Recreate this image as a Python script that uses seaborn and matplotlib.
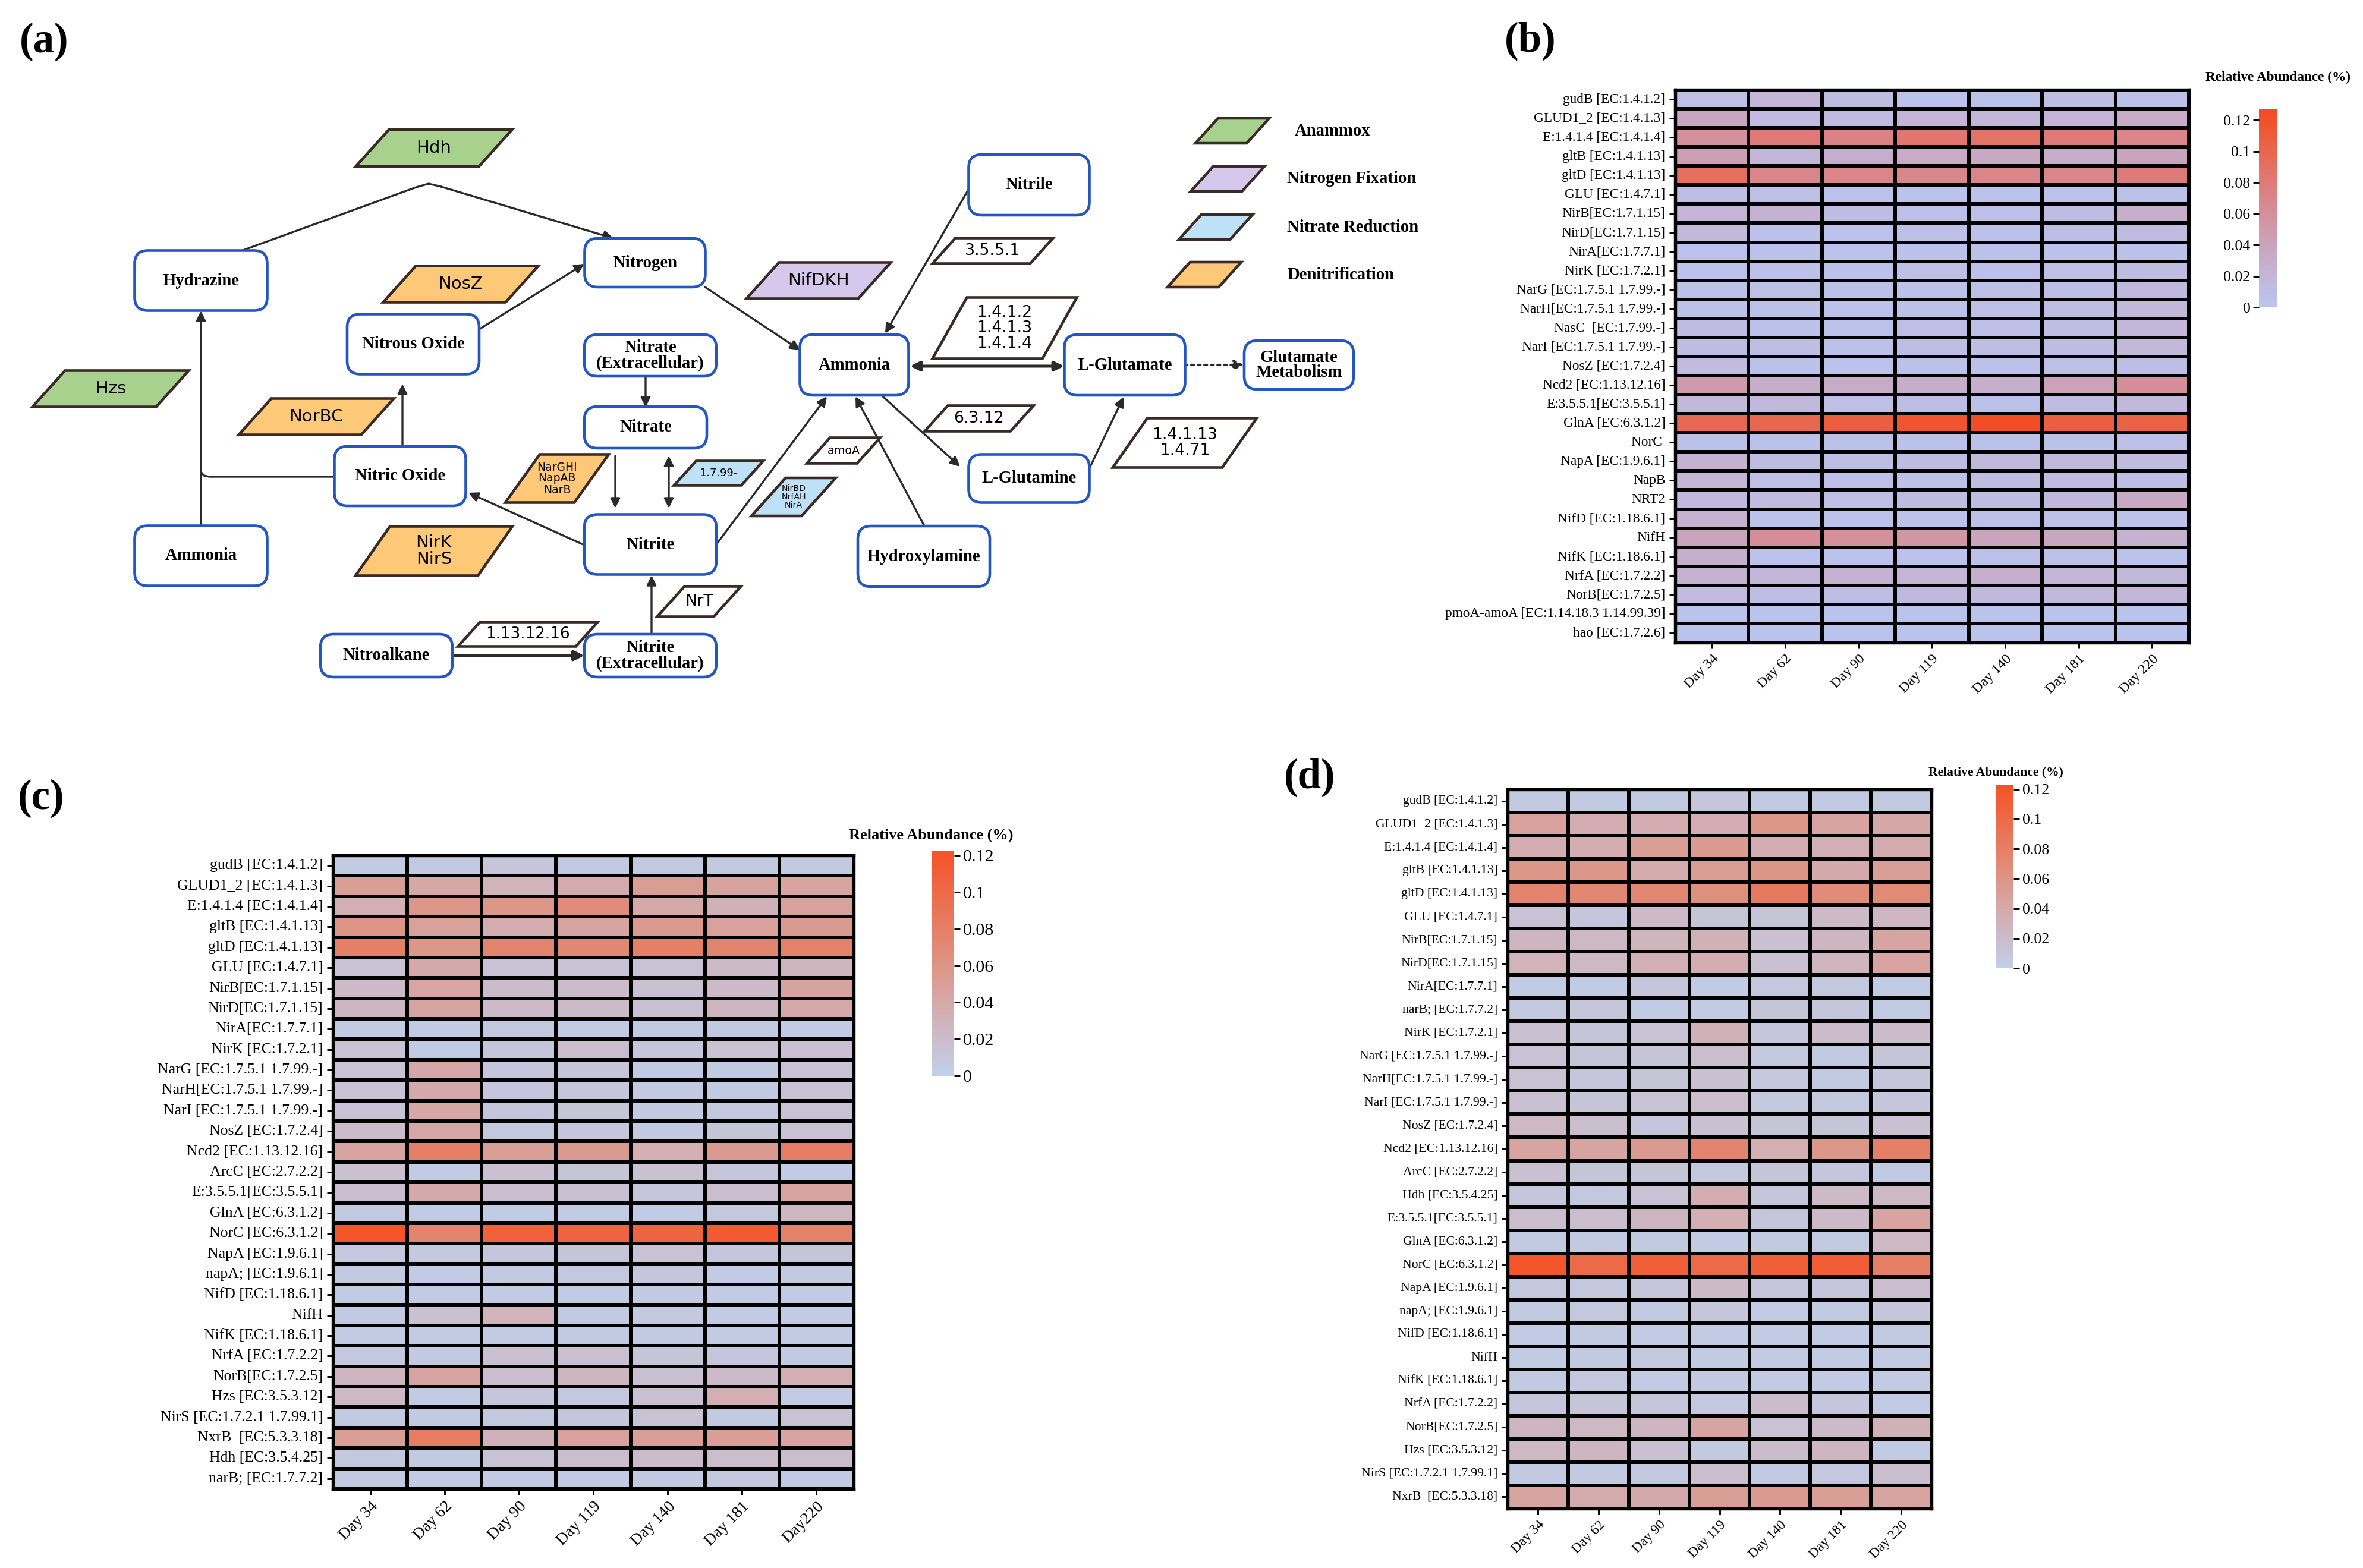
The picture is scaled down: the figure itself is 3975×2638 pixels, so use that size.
import numpy as np
import pandas as pd
import matplotlib
matplotlib.use("Agg")
import matplotlib.pyplot as plt
import seaborn as sns
from matplotlib.colors import LinearSegmentedColormap
from matplotlib.patches import FancyBboxPatch, Polygon

plt.rcParams['font.family'] = ['Liberation Serif', 'DejaVu Serif']

# ---------------- DATA ----------------
days_b = ["Day 34", "Day 62", "Day 90", "Day 119", "Day 140", "Day 181", "Day 220"]
days_c = ["Day 34", "Day 62", "Day 90", "Day 119", "Day 140", "Day 181", "Day220"]
days_d = ["Day 34", "Day 62", "Day 90", "Day 119", "Day 140", "Day 181", "Day 220"]

genes_b = ["gudB [EC:1.4.1.2]", "GLUD1_2 [EC:1.4.1.3]", "E:1.4.1.4 [EC:1.4.1.4]", "gltB [EC:1.4.1.13]",
           "gltD [EC:1.4.1.13]", "GLU [EC:1.4.7.1]", "NirB[EC:1.7.1.15]", "NirD[EC:1.7.1.15]",
           "NirA[EC:1.7.7.1]", "NirK [EC:1.7.2.1]", "NarG [EC:1.7.5.1 1.7.99.-]", "NarH[EC:1.7.5.1 1.7.99.-]",
           "NasC  [EC:1.7.99.-]", "NarI [EC:1.7.5.1 1.7.99.-]", "NosZ [EC:1.7.2.4]", "Ncd2 [EC:1.13.12.16]",
           "E:3.5.5.1[EC:3.5.5.1]", "GlnA [EC:6.3.1.2]", "NorC ", "NapA [EC:1.9.6.1]", "NapB", "NRT2",
           "NifD [EC:1.18.6.1]", "NifH", "NifK [EC:1.18.6.1]", "NrfA [EC:1.7.2.2]", "NorB[EC:1.7.2.5]",
           "pmoA-amoA [EC:1.14.18.3 1.14.99.39]", "hao [EC:1.7.2.6]"]
vals_b = [
    [0.008, 0.022, 0.012, 0.004, 0.006, 0.010, 0.006],
    [0.038, 0.014, 0.014, 0.022, 0.020, 0.022, 0.032],
    [0.060, 0.080, 0.072, 0.085, 0.088, 0.080, 0.070],
    [0.045, 0.020, 0.028, 0.032, 0.035, 0.030, 0.040],
    [0.092, 0.070, 0.070, 0.068, 0.070, 0.070, 0.080],
    [0.010, 0.008, 0.004, 0.004, 0.004, 0.004, 0.006],
    [0.022, 0.024, 0.012, 0.008, 0.008, 0.012, 0.028],
    [0.018, 0.006, 0.004, 0.008, 0.006, 0.010, 0.014],
    [0.004, 0.006, 0.004, 0.006, 0.006, 0.006, 0.006],
    [0.004, 0.006, 0.006, 0.008, 0.006, 0.008, 0.012],
    [0.006, 0.008, 0.006, 0.006, 0.008, 0.010, 0.016],
    [0.006, 0.006, 0.004, 0.006, 0.008, 0.010, 0.018],
    [0.012, 0.006, 0.004, 0.008, 0.008, 0.010, 0.020],
    [0.012, 0.010, 0.006, 0.010, 0.010, 0.012, 0.018],
    [0.014, 0.006, 0.004, 0.006, 0.006, 0.008, 0.010],
    [0.050, 0.030, 0.032, 0.030, 0.028, 0.042, 0.062],
    [0.018, 0.016, 0.008, 0.010, 0.006, 0.012, 0.016],
    [0.098, 0.100, 0.108, 0.118, 0.125, 0.108, 0.105],
    [0.006, 0.006, 0.006, 0.006, 0.006, 0.006, 0.008],
    [0.026, 0.012, 0.010, 0.012, 0.018, 0.016, 0.014],
    [0.022, 0.008, 0.008, 0.006, 0.012, 0.014, 0.010],
    [0.016, 0.014, 0.008, 0.012, 0.012, 0.016, 0.035],
    [0.026, 0.004, 0.004, 0.004, 0.006, 0.006, 0.004],
    [0.040, 0.062, 0.060, 0.055, 0.040, 0.038, 0.025],
    [0.028, 0.004, 0.004, 0.004, 0.006, 0.006, 0.004],
    [0.025, 0.020, 0.024, 0.022, 0.028, 0.020, 0.018],
    [0.014, 0.010, 0.010, 0.016, 0.016, 0.018, 0.020],
    [0.003, 0.003, 0.003, 0.003, 0.003, 0.003, 0.003],
    [0.003, 0.003, 0.003, 0.003, 0.003, 0.003, 0.003],
]

genes_c = ["gudB [EC:1.4.1.2]", "GLUD1_2 [EC:1.4.1.3]", "E:1.4.1.4 [EC:1.4.1.4]", "gltB [EC:1.4.1.13]",
           "gltD [EC:1.4.1.13]", "GLU [EC:1.4.7.1]", "NirB[EC:1.7.1.15]", "NirD[EC:1.7.1.15]",
           "NirA[EC:1.7.7.1]", "NirK [EC:1.7.2.1]", "NarG [EC:1.7.5.1 1.7.99.-]", "NarH[EC:1.7.5.1 1.7.99.-]",
           "NarI [EC:1.7.5.1 1.7.99.-]", "NosZ [EC:1.7.2.4]", "Ncd2 [EC:1.13.12.16]", "ArcC [EC:2.7.2.2]",
           "E:3.5.5.1[EC:3.5.5.1]", "GlnA [EC:6.3.1.2]", "NorC [EC:6.3.1.2]", "NapA [EC:1.9.6.1]",
           "napA; [EC:1.9.6.1]", "NifD [EC:1.18.6.1]", "NifH", "NifK [EC:1.18.6.1]", "NrfA [EC:1.7.2.2]",
           "NorB[EC:1.7.2.5]", "Hzs [EC:3.5.3.12]", "NirS [EC:1.7.2.1 1.7.99.1]", "NxrB  [EC:5.3.3.18]",
           "Hdh [EC:3.5.4.25]", "narB; [EC:1.7.7.2]"]
vals_c = [
    [0.004, 0.006, 0.010, 0.006, 0.006, 0.006, 0.006],
    [0.050, 0.042, 0.030, 0.038, 0.052, 0.046, 0.045],
    [0.035, 0.058, 0.058, 0.068, 0.040, 0.032, 0.048],
    [0.060, 0.048, 0.036, 0.045, 0.055, 0.048, 0.055],
    [0.080, 0.058, 0.075, 0.072, 0.080, 0.075, 0.078],
    [0.014, 0.040, 0.014, 0.014, 0.014, 0.022, 0.028],
    [0.022, 0.044, 0.020, 0.020, 0.016, 0.022, 0.046],
    [0.026, 0.045, 0.022, 0.022, 0.016, 0.026, 0.040],
    [0.004, 0.004, 0.008, 0.004, 0.006, 0.006, 0.004],
    [0.014, 0.004, 0.010, 0.018, 0.010, 0.014, 0.016],
    [0.014, 0.042, 0.010, 0.012, 0.006, 0.006, 0.014],
    [0.014, 0.040, 0.010, 0.010, 0.006, 0.006, 0.014],
    [0.014, 0.042, 0.010, 0.012, 0.006, 0.008, 0.014],
    [0.020, 0.044, 0.008, 0.010, 0.006, 0.012, 0.014],
    [0.045, 0.080, 0.050, 0.055, 0.035, 0.055, 0.082],
    [0.016, 0.004, 0.016, 0.012, 0.016, 0.010, 0.004],
    [0.018, 0.040, 0.018, 0.016, 0.010, 0.018, 0.045],
    [0.006, 0.004, 0.004, 0.004, 0.004, 0.008, 0.025],
    [0.120, 0.075, 0.108, 0.105, 0.105, 0.115, 0.078],
    [0.008, 0.008, 0.010, 0.012, 0.014, 0.010, 0.012],
    [0.006, 0.004, 0.006, 0.008, 0.010, 0.004, 0.006],
    [0.004, 0.004, 0.004, 0.004, 0.006, 0.004, 0.004],
    [0.006, 0.016, 0.030, 0.006, 0.008, 0.004, 0.004],
    [0.004, 0.004, 0.004, 0.006, 0.006, 0.004, 0.004],
    [0.008, 0.006, 0.016, 0.016, 0.012, 0.010, 0.006],
    [0.028, 0.045, 0.018, 0.028, 0.016, 0.022, 0.035],
    [0.024, 0.004, 0.010, 0.008, 0.016, 0.035, 0.004],
    [0.006, 0.006, 0.008, 0.010, 0.014, 0.006, 0.014],
    [0.050, 0.082, 0.032, 0.048, 0.050, 0.050, 0.045],
    [0.008, 0.006, 0.014, 0.018, 0.020, 0.018, 0.018],
    [0.006, 0.004, 0.004, 0.004, 0.006, 0.008, 0.004],
]

genes_d = ["gudB [EC:1.4.1.2]", "GLUD1_2 [EC:1.4.1.3]", "E:1.4.1.4 [EC:1.4.1.4]", "gltB [EC:1.4.1.13]",
           "gltD [EC:1.4.1.13]", "GLU [EC:1.4.7.1]", "NirB[EC:1.7.1.15]", "NirD[EC:1.7.1.15]",
           "NirA[EC:1.7.7.1]", "narB; [EC:1.7.7.2]", "NirK [EC:1.7.2.1]", "NarG [EC:1.7.5.1 1.7.99.-]",
           "NarH[EC:1.7.5.1 1.7.99.-]", "NarI [EC:1.7.5.1 1.7.99.-]", "NosZ [EC:1.7.2.4]",
           "Ncd2 [EC:1.13.12.16]", "ArcC [EC:2.7.2.2]", "Hdh [EC:3.5.4.25]", "E:3.5.5.1[EC:3.5.5.1]",
           "GlnA [EC:6.3.1.2]", "NorC [EC:6.3.1.2]", "NapA [EC:1.9.6.1]", "napA; [EC:1.9.6.1]",
           "NifD [EC:1.18.6.1]", "NifH", "NifK [EC:1.18.6.1]", "NrfA [EC:1.7.2.2]", "NorB[EC:1.7.2.5]",
           "Hzs [EC:3.5.3.12]", "NirS [EC:1.7.2.1 1.7.99.1]", "NxrB  [EC:5.3.3.18]"]
vals_d = [
    [0.006, 0.006, 0.006, 0.010, 0.006, 0.006, 0.006],
    [0.048, 0.036, 0.036, 0.036, 0.058, 0.045, 0.042],
    [0.036, 0.036, 0.050, 0.055, 0.036, 0.034, 0.038],
    [0.058, 0.058, 0.038, 0.052, 0.060, 0.040, 0.050],
    [0.075, 0.072, 0.072, 0.065, 0.085, 0.068, 0.070],
    [0.014, 0.010, 0.022, 0.012, 0.012, 0.022, 0.025],
    [0.026, 0.024, 0.028, 0.032, 0.016, 0.026, 0.045],
    [0.030, 0.024, 0.034, 0.036, 0.016, 0.028, 0.045],
    [0.004, 0.004, 0.010, 0.004, 0.008, 0.008, 0.004],
    [0.008, 0.010, 0.004, 0.004, 0.012, 0.010, 0.004],
    [0.016, 0.012, 0.014, 0.032, 0.010, 0.020, 0.020],
    [0.014, 0.012, 0.012, 0.018, 0.008, 0.006, 0.012],
    [0.014, 0.010, 0.012, 0.016, 0.008, 0.006, 0.010],
    [0.016, 0.012, 0.014, 0.018, 0.008, 0.008, 0.010],
    [0.024, 0.018, 0.010, 0.016, 0.012, 0.012, 0.016],
    [0.045, 0.045, 0.055, 0.075, 0.035, 0.058, 0.080],
    [0.016, 0.012, 0.012, 0.008, 0.012, 0.010, 0.006],
    [0.010, 0.008, 0.014, 0.036, 0.010, 0.022, 0.024],
    [0.018, 0.018, 0.026, 0.034, 0.010, 0.022, 0.045],
    [0.006, 0.006, 0.006, 0.004, 0.006, 0.006, 0.024],
    [0.120, 0.100, 0.110, 0.100, 0.110, 0.112, 0.080],
    [0.008, 0.008, 0.010, 0.022, 0.010, 0.010, 0.018],
    [0.006, 0.008, 0.006, 0.010, 0.004, 0.006, 0.010],
    [0.004, 0.006, 0.004, 0.004, 0.004, 0.004, 0.006],
    [0.004, 0.006, 0.008, 0.004, 0.004, 0.004, 0.004],
    [0.006, 0.008, 0.004, 0.006, 0.004, 0.004, 0.004],
    [0.010, 0.012, 0.010, 0.008, 0.020, 0.010, 0.004],
    [0.026, 0.024, 0.026, 0.045, 0.014, 0.022, 0.032],
    [0.024, 0.026, 0.016, 0.006, 0.020, 0.026, 0.004],
    [0.006, 0.006, 0.008, 0.018, 0.006, 0.008, 0.018],
    [0.045, 0.038, 0.040, 0.050, 0.055, 0.050, 0.045],
]

cbar_ticks = [0, 0.02, 0.04, 0.06, 0.08, 0.1, 0.12]
cbar_ticklabels = ["0", "0.02", "0.04", "0.06", "0.08", "0.1", "0.12"]

# ---------------- FIGURE ----------------
W, H = 3975, 2638
DPI = 300
fig = plt.figure(figsize=(W / DPI, H / DPI), dpi=DPI)

def fa(x0, y0, x1, y1):
    return [x0 / W, 1 - y1 / H, (x1 - x0) / W, (y1 - y0) / H]

# overlay axis in pixel coordinates for panel (a) and letters
ax0 = fig.add_axes([0, 0, 1, 1])
ax0.set_xlim(0, W)
ax0.set_ylim(H, 0)
ax0.axis('off')
ax0.patch.set_alpha(0)

BLUE_EDGE = '#2356c0'
PARA_EDGE = '#3a2a26'
GREEN = '#a9d18e'
PURPLE = '#d6c8ec'
LBLUE = '#bfe1f7'
ORANGE = '#fdc878'
WHITE = '#ffffff'

boxes = [
    ("Hydrazine", 338, 472, 223, 101),
    ("Nitrogen", 1085, 442, 203, 82),
    ("Nitrous Oxide", 695, 579, 222, 101),
    ("Nitric Oxide", 673, 801, 221, 100),
    ("Ammonia", 338, 935, 223, 101),
    ("Nitrate\n(Extracellular)", 1094, 598, 222, 70),
    ("Nitrate", 1086, 719, 206, 70),
    ("Nitrite", 1094, 916, 222, 101),
    ("Nitroalkane", 650, 1103, 222, 72),
    ("Nitrite\n(Extracellular)", 1094, 1103, 222, 72),
    ("Nitrile", 1731, 311, 203, 102),
    ("Ammonia", 1437, 614, 183, 102),
    ("L-Glutamate", 1892, 614, 203, 102),
    ("Glutamate\nMetabolism", 2185, 614, 184, 82),
    ("L-Glutamine", 1731, 805, 203, 81),
    ("Hydroxylamine", 1554, 936, 222, 102),
]
for lab, cx, cy, w, h in boxes:
    p = FancyBboxPatch((cx - w / 2, cy - h / 2), w, h,
                       boxstyle="round,pad=0,rounding_size=22",
                       fc='white', ec=BLUE_EDGE, lw=1.1, zorder=3)
    ax0.add_patch(p)
    ax0.text(cx, cy, lab, ha='center', va='center', fontsize=6.9, fontweight='bold',
             linespacing=0.95, zorder=4)

paras = [
    ("Hdh", 730, 249, 263, 62, GREEN, 7),
    ("NosZ", 775, 478, 261, 61, ORANGE, 7),
    ("Hzs", 186, 654, 263, 61, GREEN, 7),
    ("NorBC", 532, 701, 261, 61, ORANGE, 7),
    ("NirK\nNirS", 730, 927, 264, 83, ORANGE, 7),
    ("NarGHI\nNapAB\nNarB", 937, 805, 174, 81, ORANGE, 4.5),
    ("1.7.99-", 1209, 796, 150, 41, LBLUE, 4.3),
    ("NrT", 1176, 1012, 141, 51, WHITE, 6.5),
    ("1.13.12.16", 888, 1067, 235, 41, WHITE, 6.3),
    ("NifDKH", 1377, 472, 243, 61, PURPLE, 7),
    ("3.5.5.1", 1670, 422, 203, 43, WHITE, 6.4),
    ("1.4.1.2\n1.4.1.3\n1.4.1.4", 1690, 552, 243, 103, WHITE, 6.4),
    ("6.3.12", 1647, 704, 183, 43, WHITE, 6.4),
    ("amoA", 1419, 758, 123, 43, WHITE, 4.6),
    ("NirBD\nNrfAH\nNirA", 1335, 836, 142, 64, LBLUE, 3.4),
    ("1.4.1.13\n1.4.71", 1993, 745, 242, 83, WHITE, 6.4),
    ("", 2073, 220, 124, 42, GREEN, 6),
    ("", 2065, 301, 124, 42, PURPLE, 6),
    ("", 2045, 382, 124, 42, LBLUE, 6),
    ("", 2026, 462, 124, 42, ORANGE, 6),
]
for lab, cx, cy, tw, h, col, fs in paras:
    sk = float(np.clip(h * 0.9, 34, 58))
    l, r, t, b = cx - tw / 2, cx + tw / 2, cy - h / 2, cy + h / 2
    pts = [(l, b), (r - sk, b), (r, t), (l + sk, t)]
    ax0.add_patch(Polygon(pts, closed=True, fc=col, ec=PARA_EDGE, lw=1.1, zorder=3))
    if lab:
        ax0.text(cx, cy, lab, ha='center', va='center', fontsize=fs,
                 family=['DejaVu Sans'], linespacing=1.0, zorder=4)

legend_labels = [("Anammox", 2178, 220), ("Nitrogen Fixation", 2165, 301),
                 ("Nitrate Reduction", 2165, 382), ("Denitrification", 2165, 462)]
for lab, x, y in legend_labels:
    ax0.text(x, y, lab, ha='left', va='center', fontsize=6.9, fontweight='bold')

ARC = '#2a2a2a'
def arrow(x0, y0, x1, y1, style='-|>', ls='-', lw=0.8):
    ax0.annotate('', xy=(x1, y1), xytext=(x0, y0),
                 arrowprops=dict(arrowstyle=style, lw=lw, color=ARC, ls=ls,
                                 mutation_scale=8, shrinkA=0, shrinkB=0), zorder=2)

# Hydrazine -> (Hdh) -> Nitrogen, with a rounded apex
ax0.plot([406, 700, 721, 742], [422, 315, 309, 314], color=ARC, lw=0.8, zorder=2)
arrow(742, 314, 1032, 401)
arrow(338, 884, 338, 523)
ax0.plot([563, 352, 343, 338, 338], [802, 802, 800, 794, 780], color=ARC, lw=0.8, zorder=2)
arrow(677, 751, 677, 646)
arrow(806, 554, 983, 444)
arrow(983, 917, 788, 829)
arrow(1086, 633, 1086, 685)
arrow(1035, 767, 1035, 855)
arrow(1125, 767, 1125, 855, style='<|-|>')
arrow(1096, 1067, 1096, 968)
arrow(761, 1103, 983, 1103, lw=1.3)
arrow(1205, 916, 1391, 667)
arrow(1186, 483, 1346, 589)
arrow(1629, 319, 1489, 561)
arrow(1531, 616, 1790, 616, style='<|-|>', lw=1.2)
arrow(1993, 614, 2093, 614, ls=':', lw=1.0)
arrow(1485, 667, 1615, 785)
arrow(1834, 785, 1890, 668)
arrow(1555, 885, 1439, 667)

# panel letters
for lab, x, y in [("(a)", 33, 70), ("(b)", 2531, 69), ("(c)", 30, 1343), ("(d)", 2160, 1308)]:
    ax0.text(x, y, lab, ha='left', va='center', fontsize=17, fontweight='bold')

# ---------------- HEATMAPS ----------------
def make_cmap(name, stops, vmax):
    return LinearSegmentedColormap.from_list(name, [(min(v / vmax, 1.0), c) for v, c in stops])

vmax_b = 0.127
cmap_b = make_cmap('b', [(0, '#b9c5f0'), (0.02, '#c3b6d8'), (0.04, '#caa4bc'), (0.06, '#d4909c'),
                         (0.08, '#de7b78'), (0.1, '#e8674f'), (0.12, '#f0522a'), (0.127, '#f24d22')], vmax_b)
vmax_cd = 0.1226
cmap_cd = make_cmap('cd', [(0, '#bfd0ea'), (0.02, '#cbbccb'), (0.04, '#d5a9aa'), (0.06, '#dd9585'),
                           (0.08, '#e57f66'), (0.1, '#ed6a48'), (0.12, '#f5552b'), (0.1226, '#f6522a')], vmax_cd)

def heat(pos, cpos, vals, genes, days, cmap, vmax, yfs, xfs, cfs, lab_fs, lab_xy, cbar_left):
    ax = fig.add_axes(fa(*pos))
    cax = fig.add_axes(fa(*cpos))
    df = pd.DataFrame(vals, index=genes, columns=days)
    sns.heatmap(df, ax=ax, cmap=cmap, vmin=0, vmax=vmax, linewidths=1.0, linecolor='black',
                cbar_ax=cax, xticklabels=True, yticklabels=True)
    ax.set_xlabel('')
    ax.set_ylabel('')
    ax.tick_params(axis='y', length=2.5, width=0.7, pad=1.5, labelsize=yfs, left=True)
    ax.tick_params(axis='x', length=2.5, width=0.7, pad=1.5, labelsize=xfs, bottom=True)
    plt.setp(ax.get_yticklabels(), rotation=0)
    plt.setp(ax.get_xticklabels(), rotation=45, ha='right', rotation_mode='anchor')
    for s in ax.spines.values():
        s.set_visible(True)
        s.set_linewidth(1.3)
        s.set_color('black')
    cb = ax.collections[0].colorbar
    cb.outline.set_visible(False)
    cb.set_ticks(cbar_ticks)
    cb.set_ticklabels(cbar_ticklabels)
    if cbar_left:
        cax.yaxis.set_ticks_position('left')
        cax.yaxis.set_label_position('left')
    cax.tick_params(length=2.5, width=0.7, pad=1, labelsize=cfs)
    ax0.text(lab_xy[0], lab_xy[1], "Relative Abundance (%)", ha='left', va='center',
             fontsize=lab_fs, fontweight='bold')
    return ax

heat((2818, 151, 3682, 1081), (3800, 184, 3831, 517), vals_b, genes_b, days_b, cmap_b, vmax_b,
     5.6, 5.8, 6.2, 5.6, (3710, 130), True)
heat((560, 1439, 1436, 2505), (1568, 1431, 1605, 1810), vals_c, genes_c, days_c, cmap_cd, vmax_cd,
     6.2, 6.6, 7.2, 6.3, (1428, 1405), False)
heat((2536, 1328, 3249, 2538), (3358, 1321, 3387, 1629), vals_d, genes_d, days_d, cmap_cd, vmax_cd,
     5.2, 5.6, 6.2, 5.2, (3244, 1299), False)

fig.savefig("out.png", dpi=DPI)
